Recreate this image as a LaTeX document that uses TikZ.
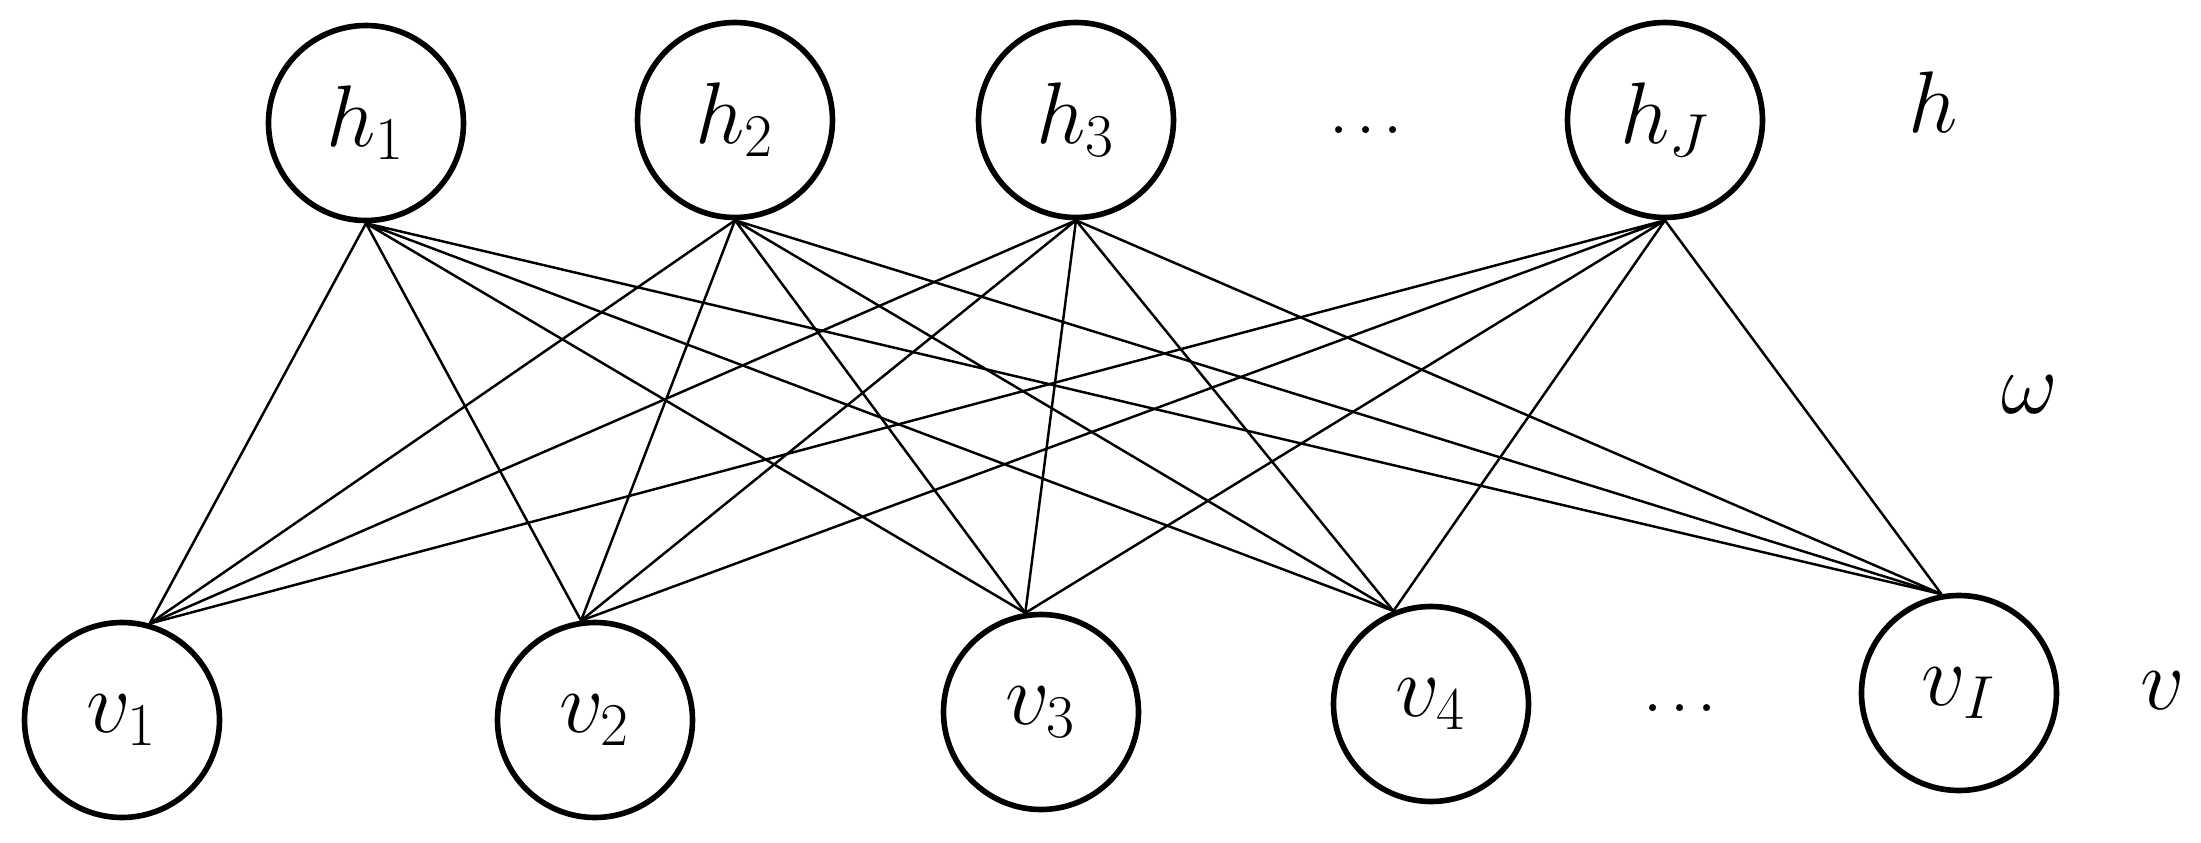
\documentclass[tikz,border=0pt]{standalone}
\usepackage{amsmath}
\usepackage{amssymb}

\begin{document}
\begin{tikzpicture}[neuron/.style={circle, draw, line width=1.6pt, minimum size=1.95cm, inner sep=0pt, font=\fontsize{24}{28}\selectfont},
  lbl/.style={font=\fontsize{24}{28}\selectfont}]
\useasboundingbox (0,0) rectangle (22.01,8.42);

\node[neuron] (h1) at (3.66,7.19) {$h_1$};
\node[neuron] (h2) at (7.35,7.22) {$h_2$};
\node[neuron] (h3) at (10.76,7.22) {$h_3$};
\node[lbl] (hdots) at (13.66,7.12) {.\hspace{1.8pt}.\hspace{1.8pt}.};
\node[neuron] (hJ) at (16.65,7.22) {$h_J$};
\node[lbl] (hname) at (19.33,7.40) {$h$};

\node[lbl] (wname) at (20.30,4.47) {$\omega$};

\node[neuron] (v1) at (1.22,1.22) {$v_1$};
\node[neuron] (v2) at (5.95,1.22) {$v_2$};
\node[neuron] (v3) at (10.41,1.30) {$v_3$};
\node[neuron] (v4) at (14.31,1.38) {$v_4$};
\node[lbl] (vdots) at (16.80,1.34) {.\hspace{1.8pt}.\hspace{1.8pt}.};
\node[neuron] (vI) at (19.59,1.49) {$v_I$};
\node[lbl] (vname) at (21.63,1.51) {$v$};

\draw[line width=0.7pt] (h1.south) -- (v1.74) (h1.south) -- (v2.98) (h1.south) -- (v3.99) (h1.south) -- (v4.112) (h1.south) -- (vI.100);
\draw[line width=0.7pt] (h2.south) -- (v1.74) (h2.south) -- (v2.98) (h2.south) -- (v3.99) (h2.south) -- (v4.112) (h2.south) -- (vI.100);
\draw[line width=0.7pt] (h3.south) -- (v1.74) (h3.south) -- (v2.98) (h3.south) -- (v3.99) (h3.south) -- (v4.112) (h3.south) -- (vI.100);
\draw[line width=0.7pt] (hJ.south) -- (v1.74) (hJ.south) -- (v2.98) (hJ.south) -- (v3.99) (hJ.south) -- (v4.112) (hJ.south) -- (vI.100);
\end{tikzpicture}
\end{document}
